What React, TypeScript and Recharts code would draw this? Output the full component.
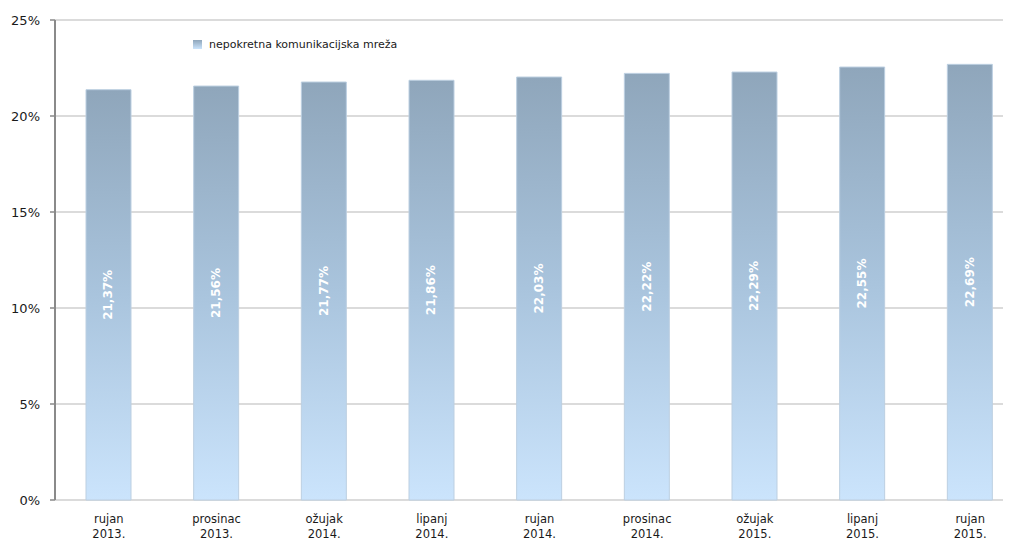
import React from "react";
import { BarChart, Bar, XAxis, YAxis, CartesianGrid, LabelList } from "recharts";

const months = ["rujan", "prosinac", "ožujak", "lipanj", "rujan", "prosinac", "ožujak", "lipanj", "rujan"];
const years = ["2013.", "2013.", "2014.", "2014.", "2014.", "2014.", "2015.", "2015.", "2015."];
const values = [21.37, 21.56, 21.77, 21.86, 22.03, 22.22, 22.29, 22.55, 22.69];
const yTicks = [0, 5, 10, 15, 20, 25];
const seriesName = "nepokretna komunikacijska mreža";

const data = months.map((m, i) => ({ key: i, month: m, year: years[i], value: values[i] }));

const FONT = "'DejaVu Sans', Verdana, sans-serif";

const XTick = (props: any) => {
  const { x, y, payload } = props;
  const d = data[payload.value];
  return (
    <g>
      <text x={x} y={y + 15} textAnchor="middle" fontSize={11.5} fill="#1a1a1a" fontFamily={FONT}>
        {d.month}
      </text>
      <text x={x} y={y + 30} textAnchor="middle" fontSize={11.5} fill="#1a1a1a" fontFamily={FONT}>
        {d.year}
      </text>
    </g>
  );
};

const BarLabel = (props: any) => {
  const { x, y, width, height, value } = props;
  const cx = x + width / 2;
  const cy = y + height / 2;
  const txt = value.toFixed(2).replace(".", ",") + "%";
  return (
    <text
      x={cx}
      y={cy}
      transform={`rotate(-90 ${cx} ${cy})`}
      textAnchor="middle"
      dominantBaseline="central"
      fill="#ffffff"
      fontWeight="bold"
      fontSize={12}
      fontFamily={FONT}
    >
      {txt}
    </text>
  );
};

export default function App() {
  return (
    <div style={{ position: "relative", width: 1003, height: 533, overflow: "hidden" }}>
      <div
        style={{
          position: "absolute",
          top: 30,
          left: 185,
          display: "flex",
          alignItems: "center",
          fontFamily: FONT,
          fontSize: 11,
          color: "#1a1a1a",
          zIndex: 2,
        }}
      >
        <svg width={9} height={9} style={{ marginRight: 7 }}>
          <defs>
            <linearGradient id="legGrad" x1="0" y1="0" x2="0" y2="1">
              <stop offset="0%" stopColor="#8fa6bb" />
              <stop offset="100%" stopColor="#cbe4fc" />
            </linearGradient>
          </defs>
          <rect x={0} y={0} width={9} height={9} fill="url(#legGrad)" />
        </svg>
        <span>{seriesName}</span>
      </div>
      <BarChart
        width={1030}
        height={533}
        data={data}
        margin={{ top: 12, right: 14, bottom: 0, left: 0 }}
        barCategoryGap={0}
      >
        <defs>
          <linearGradient id="barGrad" x1="0" y1="0" x2="0" y2="1">
            <stop offset="0%" stopColor="#8fa6bb" />
            <stop offset="50%" stopColor="#a9c4dd" />
            <stop offset="100%" stopColor="#cbe4fc" />
          </linearGradient>
        </defs>
        <CartesianGrid vertical={false} stroke="#cfcfcf" strokeWidth={1.5} />
        <XAxis
          xAxisId="grid"
          type="number"
          dataKey="key"
          domain={[0, 9]}
          ticks={[0, 1, 2, 3, 4, 5, 6, 7, 8, 9]}
          tick={false}
          tickSize={5}
          height={0}
          axisLine={{ stroke: "#8a8a8a", strokeWidth: 2 }}
          tickLine={{ stroke: "#8a8a8a", strokeWidth: 1.5 }}
        />
        <XAxis
          dataKey="key"
          type="category"
          height={41}
          axisLine={false}
          tickLine={false}
          tick={<XTick />}
          interval={0}
        />
        <YAxis
          width={47}
          domain={[0, 25]}
          ticks={yTicks}
          tickFormatter={(v: number) => `${v}%`}
          tick={{ fontSize: 13, fill: "#1a1a1a", fontFamily: FONT }}
          tickSize={5}
          tickMargin={10}
          axisLine={{ stroke: "#8a8a8a", strokeWidth: 2 }}
          tickLine={{ stroke: "#8a8a8a", strokeWidth: 1.5 }}
        />
        <Bar
          dataKey="value"
          name={seriesName}
          fill="url(#barGrad)"
          stroke="#bccfe1"
          strokeWidth={1}
          barSize={45}
          isAnimationActive={false}
        >
          <LabelList dataKey="value" content={<BarLabel />} />
        </Bar>
      </BarChart>
    </div>
  );
}
